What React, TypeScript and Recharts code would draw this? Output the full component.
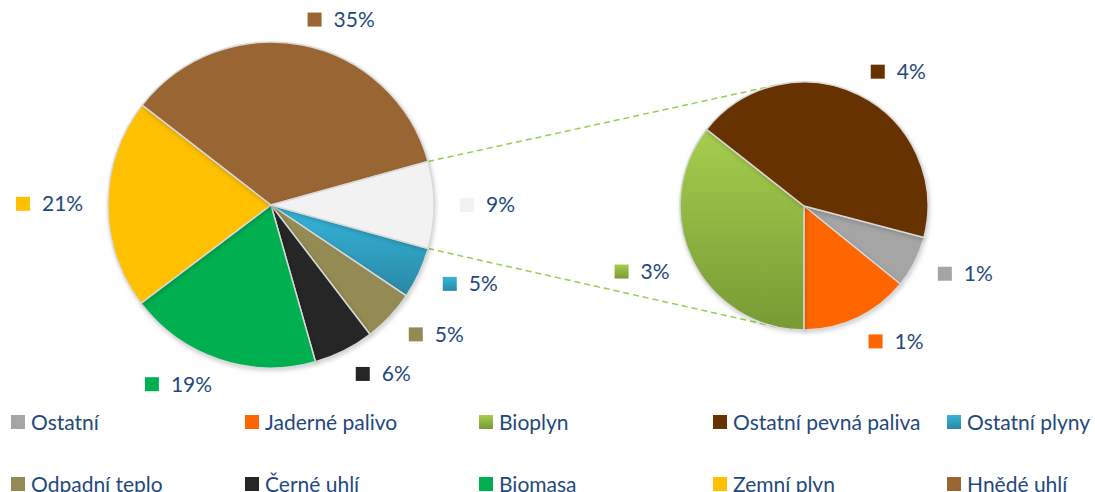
import React from 'react';
import { PieChart, Pie, Cell, Legend, Customized } from 'recharts';

// main pie: last entry is the combined slice that is split into the small pie
const mainNames = ['Ostatní plyny', 'Odpadní teplo', 'Černé uhlí', 'Biomasa', 'Zemní plyn', 'Hnědé uhlí', 'Ostatní celkem'];
const mainValues = [5.1, 5.2, 6.0, 19.1, 20.8, 35.2, 8.6];

const subNames = ['Ostatní', 'Jaderné palivo', 'Bioplyn', 'Ostatní pevná paliva'];
const subValues = [0.58, 1.22, 3.06, 3.74];

const legendNames = [
  'Ostatní', 'Jaderné palivo', 'Bioplyn', 'Ostatní pevná paliva', 'Ostatní plyny',
  'Odpadní teplo', 'Černé uhlí', 'Biomasa', 'Zemní plyn', 'Hnědé uhlí',
];

const COLORS: Record<string, string> = {
  'Ostatní': '#a5a5a5',
  'Jaderné palivo': '#ff6600',
  'Bioplyn': 'url(#gradBioplyn)',
  'Ostatní pevná paliva': '#663300',
  'Ostatní plyny': 'url(#gradPlyny)',
  'Odpadní teplo': '#948a54',
  'Černé uhlí': '#262626',
  'Biomasa': '#00b050',
  'Zemní plyn': '#ffc000',
  'Hnědé uhlí': '#996633',
  'Ostatní celkem': '#f2f2f2',
};

const CSS_COLORS: Record<string, string> = {
  ...COLORS,
  'Bioplyn': 'linear-gradient(#a6cd4e, #789a34)',
  'Ostatní plyny': 'linear-gradient(#35b6dc, #2a88a4)',
};

const TEXT = '#1f497d';
const FONT = 'Lato, "Open Sans", sans-serif';
const RADIAN = Math.PI / 180;

const MAIN = { cx: 271, cy: 205, r: 163 };
const SUB = { cx: 804, cy: 206, r: 124 };

const mainData = mainNames.map((name, i) => ({ name, value: mainValues[i] }));
const subData = subNames.map((name, i) => ({ name, value: subValues[i] }));

const otherDeg = (mainValues[mainValues.length - 1] / mainValues.reduce((a, b) => a + b, 0)) * 360;
const mainStart = -otherDeg / 2;
const subStart = -14.7;

const textWidth = (s: string) => s.split('').reduce((w, ch) => w + (ch === '%' ? 17 : 11.5), 0);

const renderLabel = (props: any) => {
  const { cx, cy, midAngle, outerRadius, value, name } = props;
  const r = outerRadius + 26;
  const cos = Math.cos(-midAngle * RADIAN);
  const x = cx + r * cos;
  const y = cy + r * Math.sin(-midAngle * RADIAN);
  const txt = `${Math.round(value)}%`;
  const w = 14 + 12 + textWidth(txt);
  const left = cos >= -0.05 ? x : x - w;
  return (
    <g>
      <rect x={left} y={y - 7} width={14} height={14} fill={COLORS[name]} />
      <text x={left + 26} y={y} dy="0.35em" fill={TEXT} fontSize={21} fontFamily={FONT}>
        {txt}
      </text>
    </g>
  );
};

const tangent = (px: number, py: number, upper: boolean) => {
  const dx = px - SUB.cx;
  const dy = py - SUB.cy;
  const d = Math.hypot(dx, dy);
  const base = Math.atan2(dy, dx);
  const off = Math.acos(SUB.r / d);
  const a1 = base + off;
  const a2 = base - off;
  const p1 = { x: SUB.cx + SUB.r * Math.cos(a1), y: SUB.cy + SUB.r * Math.sin(a1) };
  const p2 = { x: SUB.cx + SUB.r * Math.cos(a2), y: SUB.cy + SUB.r * Math.sin(a2) };
  return upper ? (p1.y < p2.y ? p1 : p2) : (p1.y > p2.y ? p1 : p2);
};

const Connectors = () => {
  const a = otherDeg / 2;
  const top = { x: MAIN.cx + MAIN.r * Math.cos(a * RADIAN), y: MAIN.cy - MAIN.r * Math.sin(a * RADIAN) };
  const bot = { x: MAIN.cx + MAIN.r * Math.cos(a * RADIAN), y: MAIN.cy + MAIN.r * Math.sin(a * RADIAN) };
  const t1 = tangent(top.x, top.y, true);
  const t2 = tangent(bot.x, bot.y, false);
  return (
    <g>
      <line x1={top.x} y1={top.y} x2={t1.x} y2={t1.y} stroke="#92d050" strokeWidth={1.5} strokeDasharray="6 4" />
      <line x1={bot.x} y1={bot.y} x2={t2.x} y2={t2.y} stroke="#92d050" strokeWidth={1.5} strokeDasharray="6 4" />
    </g>
  );
};

const LegendContent = () => (
  <div style={{ position: 'relative', width: 1095, height: 90, fontFamily: FONT, fontSize: 21, color: TEXT }}>
    {legendNames.map((name, i) => (
      <div
        key={name}
        style={{
          position: 'absolute',
          left: 11 + (i % 5) * 234,
          top: i < 5 ? 4 : 66,
          display: 'flex',
          alignItems: 'center',
          whiteSpace: 'nowrap',
          lineHeight: '26px',
        }}
      >
        <span style={{ width: 14, height: 14, background: CSS_COLORS[name], marginRight: 6, display: 'inline-block' }} />
        {name}
      </div>
    ))}
  </div>
);

export default function App() {
  return (
    <div style={{ position: 'absolute', left: 0, top: 0, width: 1095, height: 492, background: '#fff', overflow: 'hidden' }}>
      <style>{`.recharts-pie-sector path { filter: drop-shadow(1px 2px 2px rgba(0,0,0,0.18)); }`}</style>
      <PieChart width={1095} height={492} margin={{ top: 0, right: 0, bottom: 0, left: 0 }}>
        <defs>
          <linearGradient id="gradBioplyn" x1="0" y1="0" x2="0" y2="1">
            <stop offset="0%" stopColor="#a6cd4e" />
            <stop offset="100%" stopColor="#789a34" />
          </linearGradient>
          <linearGradient id="gradPlyny" x1="0" y1="0" x2="0" y2="1">
            <stop offset="0%" stopColor="#35b6dc" />
            <stop offset="100%" stopColor="#2a88a4" />
          </linearGradient>
        </defs>
        <Customized component={Connectors} />
        <Pie
          data={mainData}
          dataKey="value"
          nameKey="name"
          cx={MAIN.cx}
          cy={MAIN.cy}
          outerRadius={MAIN.r}
          startAngle={mainStart}
          endAngle={mainStart - 360}
          stroke="#d9d9d9"
          strokeWidth={1.5}
          label={renderLabel}
          labelLine={false}
          isAnimationActive={false}
        >
          {mainData.map((d) => (
            <Cell key={d.name} fill={COLORS[d.name]} />
          ))}
        </Pie>
        <Pie
          data={subData}
          dataKey="value"
          nameKey="name"
          cx={SUB.cx}
          cy={SUB.cy}
          outerRadius={SUB.r}
          startAngle={subStart}
          endAngle={subStart - 360}
          stroke="#d9d9d9"
          strokeWidth={1.5}
          label={renderLabel}
          labelLine={false}
          isAnimationActive={false}
        >
          {subData.map((d) => (
            <Cell key={d.name} fill={COLORS[d.name]} />
          ))}
        </Pie>
        <Legend
          content={<LegendContent />}
          wrapperStyle={{ position: 'absolute', left: 0, top: 405, width: 1095 }}
        />
      </PieChart>
    </div>
  );
}
